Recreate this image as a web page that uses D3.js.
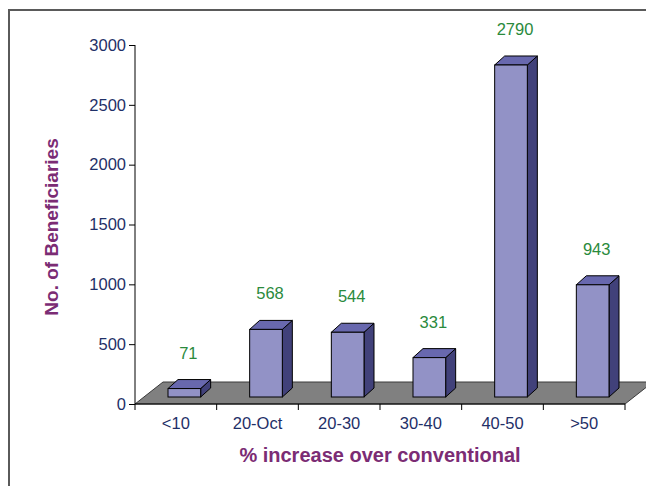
<!DOCTYPE html>
<html>
<head>
<meta charset="utf-8">
<script src="https://cdn.jsdelivr.net/npm/d3@7"></script>
<style>
  html, body { margin: 0; padding: 0; background: #ffffff; }
  svg { display: block; font-family: "Liberation Sans", Arial, sans-serif; }
</style>
</head>
<body>
<svg id="chart" width="646" height="486"></svg>
<script>
// ---- data ----
const categories = ["<10", "20-Oct", "20-30", "30-40", "40-50", ">50"];
const beneficiaries = [71, 568, 544, 331, 2790, 943];
const yTicks = [0, 500, 1000, 1500, 2000, 2500, 3000];
const xTitle = "% increase over conventional";
const yTitle = "No. of Beneficiaries";

// ---- layout ----
const svg = d3.select("#chart");
const plot = { left: 135, right: 625, top: 45, bottom: 404 };
const floorDepth = { dx: 28, dy: 22 };
const barShift = { dx: 8.5, dy: 7 };
const barDepth = { dx: 10, dy: 9 };

const x = d3.scaleBand().domain(categories).range([plot.left, plot.right]).padding(0);
const y = d3.scaleLinear().domain([0, 3000]).range([plot.bottom, plot.top]);
const yBar = d3.scaleLinear().domain([0, 3000]).range([plot.bottom - barShift.dy, 40]);

// frame border (top + left)
svg.append("path")
  .attr("d", `M9,486 L9,10 L646,10`)
  .attr("fill", "none").attr("stroke", "#5a5a5a").attr("stroke-width", 2);

// floor
svg.append("polygon")
  .attr("points", [
    [plot.left, plot.bottom],
    [plot.left + floorDepth.dx, plot.bottom - floorDepth.dy],
    [plot.right + floorDepth.dx, plot.bottom - floorDepth.dy],
    [plot.right, plot.bottom]
  ].map(p => p.join(",")).join(" "))
  .attr("fill", "#808080").attr("stroke", "#3a3a3a").attr("stroke-width", 1);

// bars
const bw = x.bandwidth();
const barW = bw * 0.4;
const bars = svg.append("g").selectAll("g").data(categories).join("g");
bars.each(function(c, i) {
  const g = d3.select(this);
  const v = beneficiaries[i];
  const x0 = x(c) + bw * 0.3 + barShift.dx;
  const x1 = x0 + barW;
  const yb = yBar(0);
  const yt = yBar(v);
  const pts = a => a.map(p => p.join(",")).join(" ");
  // side
  g.append("polygon")
    .attr("points", pts([[x1, yt], [x1 + barDepth.dx, yt - barDepth.dy], [x1 + barDepth.dx, yb - barDepth.dy], [x1, yb]]))
    .attr("fill", "#41417a").attr("stroke", "#000").attr("stroke-width", 1).attr("stroke-linejoin", "round");
  // top
  g.append("polygon")
    .attr("points", pts([[x0, yt], [x0 + barDepth.dx, yt - barDepth.dy], [x1 + barDepth.dx, yt - barDepth.dy], [x1, yt]]))
    .attr("fill", "#6868ae").attr("stroke", "#000").attr("stroke-width", 1).attr("stroke-linejoin", "round");
  // front
  g.append("rect")
    .attr("x", x0).attr("y", yt).attr("width", barW).attr("height", yb - yt)
    .attr("fill", "#9292c6").attr("stroke", "#000").attr("stroke-width", 1);
  // value label
  g.append("text")
    .attr("x", (x0 + x1) / 2 + 4)
    .attr("y", yt - 30)
    .attr("text-anchor", "middle")
    .attr("font-size", "16.5px")
    .attr("fill", "#2a8a3c")
    .text(v);
});

// axes
const yAxis = d3.axisLeft(y).tickValues(yTicks).tickSize(6).tickPadding(3).tickFormat(d3.format("d"));
const gy = svg.append("g").attr("transform", `translate(${plot.left},0)`).call(yAxis);
gy.select(".domain").attr("d", `M0,${plot.bottom}V${y(3000)}`).attr("stroke", "#000");
gy.selectAll(".tick line").attr("stroke", "#000");
gy.selectAll(".tick text").attr("font-size", "16.5px").attr("fill", "#1f3068")
  .attr("font-family", "'Liberation Sans', Arial, sans-serif");

const xAxis = d3.axisBottom(x).tickSize(6).tickPadding(7).tickSizeOuter(0);
const gx = svg.append("g").attr("transform", `translate(0,${plot.bottom})`).call(xAxis);
gx.select(".domain").attr("d", `M${plot.left},0H${plot.right}`).attr("stroke", "#000");
gx.selectAll(".tick line").remove();
gx.selectAll(".tick text").attr("font-size", "16.5px").attr("fill", "#1f3068")
  .attr("font-family", "'Liberation Sans', Arial, sans-serif");
// x ticks at band boundaries
const edges = categories.map(c => x(c)).concat([plot.right]);
gx.append("g").selectAll("line").data(edges).join("line")
  .attr("x1", d => d).attr("x2", d => d).attr("y1", 0).attr("y2", 6)
  .attr("stroke", "#000");

// titles
svg.append("text")
  .attr("x", 380).attr("y", 462)
  .attr("text-anchor", "middle")
  .attr("font-size", "20px").attr("font-weight", "bold")
  .attr("fill", "#7b2c74")
  .text(xTitle);

svg.append("text")
  .attr("transform", "translate(58,227) rotate(-90)")
  .attr("text-anchor", "middle")
  .attr("font-size", "19px").attr("font-weight", "bold")
  .attr("fill", "#7b2c74")
  .text(yTitle);
</script>
</body>
</html>
